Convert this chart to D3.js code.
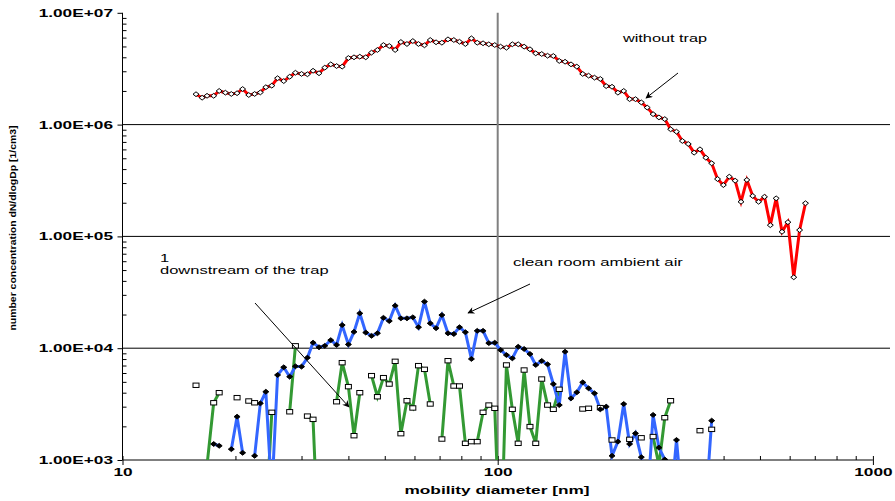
<!DOCTYPE html>
<html><head><meta charset="utf-8">
<script src="https://cdn.jsdelivr.net/npm/d3@7"></script>
<style>
body{margin:0;background:#fff}
svg{display:block}
text{font-family:Arial,"Liberation Sans",sans-serif}
</style>
</head><body>
<svg id="c" width="895" height="501"></svg>
<script>
// mobility diameters [nm] (SMPS channel midpoints)
const diameters = [15.7,16.3,16.8,17.5,18.1,18.8,19.5,20.2,20.9,21.7,22.5,23.3,24.1,25.0,25.9,26.9,27.9,28.9,30.0,31.1,
  32.2,33.4,34.6,35.9,37.2,38.5,40.0,41.4,42.9,44.5,46.1,47.8,49.6,51.4,53.3,55.2,57.3,59.4,61.5,63.8,
  66.1,68.5,71.0,73.7,76.4,79.1,82.0,85.1,88.2,91.4,94.7,98.2,101.8,105.5,109.4,113.4,117.6,121.9,126.3,131.0,
  135.8,140.7,145.9,151.2,156.8,162.5,168.5,174.7,181.1,187.7,194.6,201.7,209.1,216.7,224.7,232.9,241.4,250.3,259.5,269.0,
  278.8,289.0,299.6,310.6,322.0,333.8,346.0,358.7,371.8,385.4,399.5,414.2,429.4,445.1,461.4,478.3,495.8,514.0,532.8,552.3,
  572.5,593.5,615.3,637.8,661.2];

// without trap (red)
const withoutTrap = [1.87e6,1.74e6,1.81e6,1.81e6,2.00e6,1.93e6,1.88e6,1.91e6,2.08e6,1.84e6,
  1.88e6,1.94e6,2.16e6,2.23e6,2.60e6,2.45e6,2.68e6,2.91e6,2.84e6,2.82e6,
  3.03e6,2.88e6,3.23e6,3.46e6,3.34e6,3.30e6,3.94e6,4.00e6,4.05e6,4.00e6,
  4.40e6,4.65e6,5.15e6,5.05e6,4.65e6,5.48e6,5.26e6,5.59e6,5.26e6,5.12e6,
  5.71e6,5.45e6,5.40e6,5.79e6,5.71e6,5.51e6,5.26e6,5.91e6,5.40e6,5.34e6,
  5.23e6,5.15e6,4.98e6,4.87e6,5.23e6,5.23e6,4.98e6,4.72e6,4.34e6,4.28e6,
  4.13e6,4.11e6,3.71e6,3.65e6,3.46e6,3.30e6,2.84e6,2.74e6,2.63e6,2.56e6,
  2.21e6,2.18e6,1.93e6,2.00e6,1.69e6,1.69e6,1.58e6,1.42e6,1.24e6,1.16e6,
  1.12e6,9.08e5,8.64e5,7.14e5,6.71e5,5.61e5,6.01e5,5.06e5,4.51e5,3.26e5,
  2.88e5,3.42e5,3.15e5,2.04e5,3.20e5,2.30e5,2.04e5,2.26e5,1.26e5,2.19e5,
  1.10e5,1.34e5,4.31e4,1.14e5,1.98e5];

// clean room ambient air (blue)
const ambientAir = [null,null,null,1390,1340,null,1250,2440,1160,null,
  1090,3210,4080,500,5760,6750,5560,6890,6840,8220,
  11200,10200,10500,11800,10700,16100,10800,14000,20500,13800,
  12900,13600,18700,17500,24000,18500,18500,18900,15400,26100,
  16700,15100,19800,13600,13400,15400,13900,8010,14300,14300,
  11100,11200,9640,8690,8120,10300,9840,8870,7080,7690,
  7180,4780,3100,9300,3560,4030,4950,4380,3950,2840,
  3000,1090,1460,3170,1390,1730,1060,400,2530,1290,
  1010,400,1510,400,null,null,null,400,2250,null,
  null,null,null,null,null,null,null,null,null,null,
  null,null,null,null,null];

// downstream of the trap (green)
const downstream = [4660,null,900,3250,4000,null,null,3610,null,3370,
  3250,null,270,2670,null,null,2700,10500,null,2470,
  2310,130,null,null,3320,7420,4530,1650,4000,null,
  5680,3680,5450,4780,7630,1720,3390,2920,6980,6470,
  3170,null,1540,7730,4590,4590,1410,1460,1460,2670,
  3100,2900,120,7080,2840,1410,6380,1990,1410,5300,
  3100,2840,4290,null,null,null,2860,2900,null,2940,
  null,1510,null,null,1530,null,1580,null,1620,900,
  2390,3390,null,null,null,null,1830,null,1880,null,
  null,null,null,null,null,null,null,null,null,null,
  null,null,null,null,null];

const xTickValues = [10, 100, 1000];
const xTickLabels = ["10", "100", "1000"];
const yTickValues = [1e3, 1e4, 1e5, 1e6, 1e7];
const yTickLabels = ["1.00E+03", "1.00E+04", "1.00E+05", "1.00E+06", "1.00E+07"];
const gridValues = [1e4, 1e5, 1e6];

const svg = d3.select("#c");
const L = 122.5, R = 872.9, T = 12.8, B = 460, PR = 890;
const SX = 1.57; // horizontal stretch of the source image text

const x = d3.scaleLog().domain([10, 1000]).range([L, R]);
const y = d3.scaleLog().domain([1e3, 1e7]).range([B, T]);

const defs = svg.append("defs");
defs.append("clipPath").attr("id", "clip").append("rect")
  .attr("x", L).attr("y", T).attr("width", PR - L).attr("height", B - T);
defs.append("marker").attr("id", "arr").attr("viewBox", "0 0 10 10")
  .attr("refX", 9).attr("refY", 5).attr("markerWidth", 9).attr("markerHeight", 7)
  .attr("markerUnits", "userSpaceOnUse").attr("orient", "auto")
  .append("path").attr("d", "M0,0 L10,5 L0,10 L3,5 Z").attr("fill", "#000");

// gridlines
svg.append("g").selectAll("line").data(gridValues).join("line")
  .attr("x1", L).attr("x2", PR).attr("y1", d => y(d)).attr("y2", d => y(d))
  .attr("stroke", "#000").attr("stroke-width", 1);

// vertical line at 100 nm
svg.append("line").attr("x1", x(100)).attr("x2", x(100)).attr("y1", T).attr("y2", B)
  .attr("stroke", "#808080").attr("stroke-width", 2);

// axes
const minorY = [];
for (let e = 3; e < 7; e++) for (let m = 2; m <= 9; m++) minorY.push(m * Math.pow(10, e));
const minorX = [];
for (let e = 1; e < 3; e++) for (let m = 2; m <= 9; m++) minorX.push(m * Math.pow(10, e));

const gyMinor = svg.append("g").attr("transform", `translate(${L},0)`)
  .call(d3.axisLeft(y).tickValues(minorY).tickSize(-4).tickFormat(""));
gyMinor.select(".domain").remove();
const gy = svg.append("g").attr("transform", `translate(${L},0)`)
  .call(d3.axisLeft(y).tickValues(yTickValues).tickSize(5).tickSizeOuter(0)
    .tickFormat((d, i) => yTickLabels[i]));
gy.selectAll("line").attr("stroke", "#000").attr("x2", -5).attr("x1", 0);
gy.select(".domain").attr("stroke", "#000").attr("d", `M0,${T}V${B}`);
gy.selectAll("text").attr("x", -9.5 / SX).attr("transform", `scale(${SX},1)`)
  .attr("font-size", 11).attr("font-weight", "bold").attr("fill", "#000")
  .attr("font-family", "Arial, 'Liberation Sans', sans-serif");
gyMinor.selectAll("line").attr("stroke", "#000");

const gxMinor = svg.append("g").attr("transform", `translate(0,${B})`)
  .call(d3.axisBottom(x).tickValues(minorX).tickSize(-4).tickFormat(""));
gxMinor.select(".domain").remove();
gxMinor.selectAll("line").attr("stroke", "#000");
const gx = svg.append("g").attr("transform", `translate(0,${B})`)
  .call(d3.axisBottom(x).tickValues(xTickValues).tickSize(5).tickSizeOuter(0)
    .tickFormat((d, i) => xTickLabels[i]));
gx.select(".domain").attr("stroke", "#000").attr("d", `M${L},0H${R}`);
gx.selectAll("line").attr("stroke", "#000").attr("y1", -4);
gx.selectAll("text").attr("y", 8).attr("transform", `scale(${SX},1)`)
  .attr("font-size", 11).attr("font-weight", "bold").attr("fill", "#000")
  .attr("font-family", "Arial, 'Liberation Sans', sans-serif");

// series
function pts(vals) { return diameters.map((d, i) => ({ d, v: vals[i] })); }
const line = d3.line().defined(p => p.v != null).x(p => x(p.d)).y(p => y(p.v));
const plot = svg.append("g").attr("clip-path", "url(#clip)");

const series = [
  { vals: downstream, color: "#339933", mark: "square" },
  { vals: ambientAir, color: "#3366ff", mark: "filled" },
  { vals: withoutTrap, color: "#ff0000", mark: "hollow" }
];
series.forEach(s => {
  plot.append("path").datum(pts(s.vals)).attr("d", line)
    .attr("fill", "none").attr("stroke", s.color).attr("stroke-width", 3)
    .attr("stroke-linejoin", "miter");
});
series.forEach(s => {
  const data = pts(s.vals).filter(p => p.v != null && p.v >= 1e3);
  const g = plot.append("g");
  if (s.mark === "square") {
    g.selectAll("rect").data(data).join("rect")
      .attr("x", p => x(p.d) - 3).attr("y", p => y(p.v) - 2.2)
      .attr("width", 6).attr("height", 4.4)
      .attr("fill", "#fff").attr("stroke", "#000").attr("stroke-width", 1);
  } else {
    g.selectAll("path").data(data).join("path")
      .attr("d", p => { const cx = x(p.d), cy = y(p.v);
        return `M${cx - 3},${cy}L${cx},${cy - 2.4}L${cx + 3},${cy}L${cx},${cy + 2.4}Z`; })
      .attr("fill", s.mark === "filled" ? "#000" : "#fff")
      .attr("stroke", "#000").attr("stroke-width", 1);
  }
});

// annotations
function label(txt, px, py, sx, opts = {}) {
  svg.append("text").attr("transform", `translate(${px},${py}) scale(${sx},1)`)
    .attr("font-size", opts.size || 11).attr("font-weight", opts.bold ? "bold" : "normal")
    .attr("text-anchor", opts.anchor || "start").attr("fill", "#000").text(txt);
}
label("without trap", 623, 42, 1.48);
label("clean room ambient air", 513, 266, 1.52);
label("1", 160, 262, 1.5);
label("downstream of the trap", 160, 274, 1.5);
label("mobility diameter [nm]", 497, 494, SX, { bold: true, anchor: "middle" });

const arrows = [
  [678, 73, 646, 98],
  [530, 284, 468, 313],
  [255, 303, 349, 407]
];
svg.append("g").selectAll("line").data(arrows).join("line")
  .attr("x1", d => d[0]).attr("y1", d => d[1]).attr("x2", d => d[2]).attr("y2", d => d[3])
  .attr("stroke", "#000").attr("stroke-width", 1).attr("marker-end", "url(#arr)");

// y axis title
svg.append("text").attr("transform", "translate(16,228) rotate(-90)")
  .attr("text-anchor", "middle").attr("font-size", 9).attr("font-weight", "bold")
  .attr("textLength", 205).attr("lengthAdjust", "spacingAndGlyphs")
  .text("number concentration dN/dlogDp [1/cm3]");
</script>
</body></html>
